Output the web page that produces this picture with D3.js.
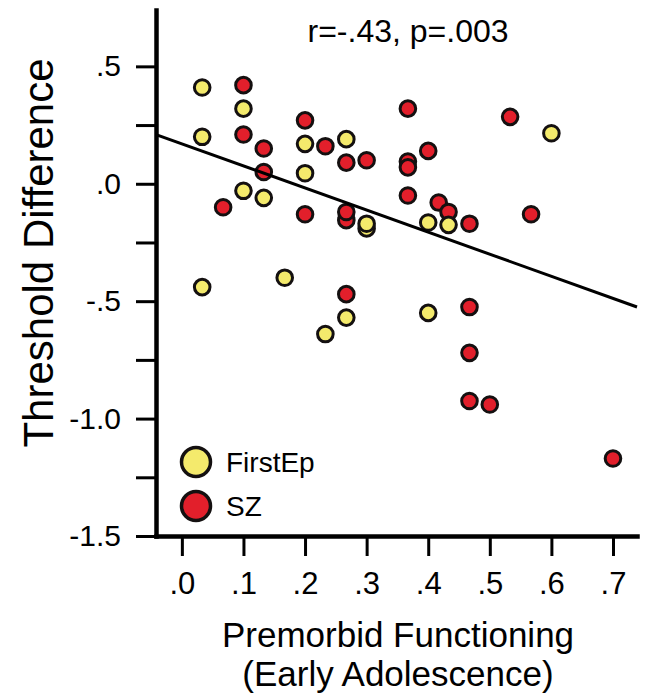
<!DOCTYPE html>
<html>
<head>
<meta charset="utf-8">
<script src="https://cdn.jsdelivr.net/npm/d3@7"></script>
<style>
  body { margin: 0; background: #fff; }
  svg { display: block; font-family: "Liberation Sans", Arial, sans-serif; }
</style>
</head>
<body>
<svg id="chart" width="646" height="698"></svg>
<script>
// Threshold difference vs premorbid functioning, two patient groups

const firstEpX = [0.033, 0.10, 0.033, 0.20, 0.267, 0.20, 0.10, 0.133, 0.30, 0.30, 0.033, 0.167, 0.267, 0.233, 0.60, 0.40, 0.433, 0.40];
const firstEpY = [0.41, 0.32, 0.20, 0.17, 0.19, 0.045, -0.03, -0.06, -0.19, -0.17, -0.44, -0.40, -0.57, -0.64, 0.215, -0.165, -0.175, -0.55];

const szX = [0.10, 0.10, 0.133, 0.20, 0.233, 0.267, 0.30, 0.133, 0.067, 0.20, 0.267, 0.267, 0.267, 0.367, 0.533, 0.40, 0.367, 0.367, 0.367, 0.417, 0.433, 0.467, 0.567, 0.467, 0.467, 0.467, 0.50, 0.70];
const szY = [0.42, 0.21, 0.15, 0.27, 0.16, 0.09, 0.10, 0.05, -0.10, -0.13, -0.155, -0.12, -0.47, 0.32, 0.285, 0.14, 0.095, 0.07, -0.05, -0.08, -0.12, -0.17, -0.13, -0.525, -0.72, -0.925, -0.94, -1.17];

const xTicks = [0, 0.1, 0.2, 0.3, 0.4, 0.5, 0.6, 0.7];
const xTickLabels = [".0", ".1", ".2", ".3", ".4", ".5", ".6", ".7"];
const yTicks = [-1.5, -1.25, -1.0, -0.75, -0.5, -0.25, 0, 0.25, 0.5];
const yTickLabels = ["-1.5", "", "-1.0", "", "-.5", "", ".0", "", ".5"];

const fitIntercept = 0.17;
const fitSlope = -0.94;
const statText = "r=-.43, p=.003";

const groups = ["FirstEp", "SZ"];
const groupColors = ["#f4ea6c", "#e21f2b"];

const svg = d3.select("#chart");
const x = d3.scaleLinear().domain([-0.042, 0.739]).range([156, 637]);
const y = d3.scaleLinear().domain([-1.5, 0.74]).range([536, 10]);

// points (SZ first, yellow on top where they overlap)
const sz = szX.map((v, i) => ({ x: v, y: szY[i] }));
const fe = firstEpX.map((v, i) => ({ x: v, y: firstEpY[i] }));

svg.append("g").selectAll("circle")
  .data(sz)
  .join("circle")
  .attr("cx", d => x(d.x))
  .attr("cy", d => y(d.y))
  .attr("r", 7.8)
  .attr("fill", groupColors[1])
  .attr("stroke", "#141010")
  .attr("stroke-width", 3);

svg.append("g").selectAll("circle")
  .data(fe)
  .join("circle")
  .attr("cx", d => x(d.x))
  .attr("cy", d => y(d.y))
  .attr("r", 7.8)
  .attr("fill", groupColors[0])
  .attr("stroke", "#141010")
  .attr("stroke-width", 3);

// regression line
const xd = x.domain();
svg.append("line")
  .attr("x1", x(xd[0]))
  .attr("y1", y(fitIntercept + fitSlope * xd[0]))
  .attr("x2", x(xd[1]))
  .attr("y2", y(fitIntercept + fitSlope * xd[1]))
  .attr("stroke", "#000")
  .attr("stroke-width", 3);

// axes
const yAxis = svg.append("g")
  .attr("transform", `translate(${x.range()[0]},0)`)
  .call(d3.axisLeft(y).tickValues(yTicks).tickSize(20).tickSizeOuter(0).tickPadding(15)
    .tickFormat((d, i) => yTickLabels[i]));

const xAxis = svg.append("g")
  .attr("transform", `translate(0,${y.range()[0]})`)
  .call(d3.axisBottom(x).tickValues(xTicks).tickSize(20).tickSizeOuter(0).tickPadding(16)
    .tickFormat((d, i) => xTickLabels[i]));

[yAxis, xAxis].forEach(a => {
  a.select(".domain").attr("stroke", "#000").attr("stroke-width", 4.5).attr("stroke-linecap", "square");
  a.selectAll(".tick line").attr("stroke", "#000").attr("stroke-width", 3);
  a.selectAll(".tick text").attr("fill", "#000").style("font-family", "Liberation Sans, Arial, sans-serif");
});
yAxis.selectAll(".tick text").style("font-size", "30px");
xAxis.selectAll(".tick text").style("font-size", "31px");

// axis titles
svg.append("text")
  .attr("transform", "translate(53,253) rotate(-90)")
  .attr("text-anchor", "middle")
  .style("font-size", "42px")
  .text("Threshold Difference");

svg.append("text")
  .attr("x", 398)
  .attr("y", 647)
  .attr("text-anchor", "middle")
  .style("font-size", "35px")
  .text("Premorbid Functioning");

svg.append("text")
  .attr("x", 398)
  .attr("y", 686)
  .attr("text-anchor", "middle")
  .style("font-size", "35px")
  .text("(Early Adolescence)");

// stats
svg.append("text")
  .attr("x", 408)
  .attr("y", 42)
  .attr("text-anchor", "middle")
  .style("font-size", "32px")
  .text(statText);

// legend
const legend = svg.append("g").attr("transform", "translate(196,462)");
const items = legend.selectAll("g")
  .data(groups)
  .join("g")
  .attr("transform", (d, i) => `translate(0,${i * 44})`);

items.append("circle")
  .attr("r", 14.5)
  .attr("fill", (d, i) => groupColors[i])
  .attr("stroke", "#141010")
  .attr("stroke-width", 3.5);

items.append("text")
  .attr("x", 30)
  .attr("y", 10)
  .style("font-size", "28px")
  .text(d => d);
</script>
</body>
</html>
